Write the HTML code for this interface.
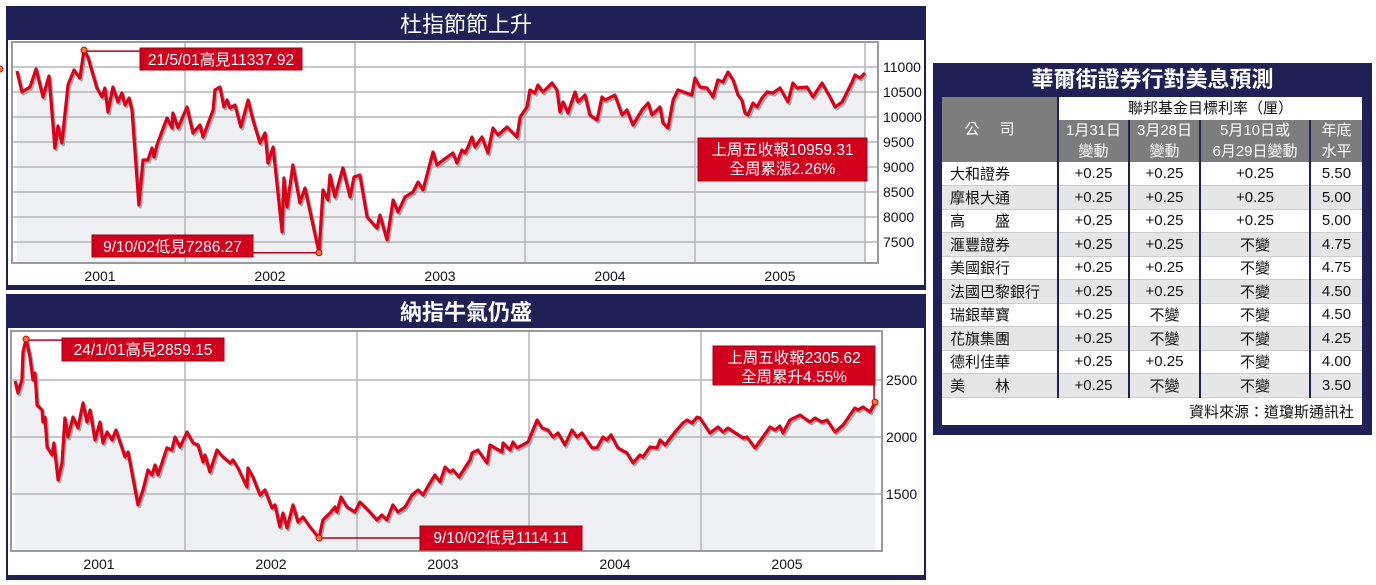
<!DOCTYPE html>
<html><head><meta charset="utf-8">
<style>
*{margin:0;padding:0;box-sizing:border-box}
body{width:1376px;height:585px;background:#fff;position:relative;overflow:hidden;font-family:"Liberation Sans","Noto Sans CJK TC",sans-serif}
svg text{font-family:"Liberation Sans","Noto Sans CJK TC",sans-serif}
#tbl{position:absolute;left:933px;top:63px;width:439px;height:372px;background:#1f2156}
#tbl .ttl{position:absolute;left:0;top:0;width:100%;height:34px;color:#fff;font-size:22px;font-weight:bold;text-align:center;line-height:34px}
table{position:absolute;left:9px;top:34px;border-collapse:collapse;font-size:15px;table-layout:fixed}
td{height:23.5px;text-align:center;padding:0;border-left:2px solid #1f2156;border-bottom:1px solid #ccc;color:#111}
td:first-child{border-left:none;text-align:left;padding-left:8px}
tr.g td{background:#e6e6e6}
tr.w td{background:#fff}
th{background:#7d7d7d;color:#fff;font-weight:normal;font-size:15px;line-height:21px;border-left:2px solid #1f2156}
th.top{background:#fff;color:#111;height:23px;line-height:23px}
.src td{text-align:right;padding-right:8px;height:28px;background:#fff;border:none}
</style></head><body>

<svg id="chart" width="930" height="585" style="position:absolute;left:0;top:0">
  <!-- top panel -->
  <rect x="7" y="7" width="918" height="282" fill="#fff" stroke="#1f2156" stroke-width="2"/>
  <rect x="7" y="7" width="918" height="33" fill="#1f2156"/>
  <text x="466" y="32" fill="#fff" font-size="22" text-anchor="middle">杜指節節上升</text>
  <g id="dowG"></g>
  <rect x="7" y="285" width="918" height="4" fill="#1f2156"/>
  <!-- bottom panel -->
  <rect x="7" y="295" width="918" height="284" fill="#fff" stroke="#1f2156" stroke-width="2"/>
  <rect x="7" y="295" width="918" height="33" fill="#1f2156"/>
  <text x="466" y="320" fill="#fff" font-size="22" font-weight="bold" text-anchor="middle">納指牛氣仍盛</text>
  <g id="nasG"></g>
  <rect x="7" y="575" width="918" height="4" fill="#1f2156"/>
</svg>

<div id="tbl">
  <div class="ttl">華爾街證券行對美息預測</div>
  <table>
    <colgroup><col style="width:116px"><col style="width:71px"><col style="width:71px"><col style="width:110px"><col style="width:52px"></colgroup>
    <tr><th rowspan="2" style="border-left:none;letter-spacing:20px">公司</th><th class="top" colspan="4">聯邦基金目標利率（厘）</th></tr>
    <tr><th>1月31日<br>變動</th><th>3月28日<br>變動</th><th>5月10日或<br>6月29日變動</th><th>年底<br>水平</th></tr>
    <tr class="w"><td>大和證券</td><td>+0.25</td><td>+0.25</td><td>+0.25</td><td>5.50</td></tr>
    <tr class="g"><td>摩根大通</td><td>+0.25</td><td>+0.25</td><td>+0.25</td><td>5.00</td></tr>
    <tr class="w"><td>高　　盛</td><td>+0.25</td><td>+0.25</td><td>+0.25</td><td>5.00</td></tr>
    <tr class="g"><td>滙豐證券</td><td>+0.25</td><td>+0.25</td><td>不變</td><td>4.75</td></tr>
    <tr class="w"><td>美國銀行</td><td>+0.25</td><td>+0.25</td><td>不變</td><td>4.75</td></tr>
    <tr class="g"><td>法國巴黎銀行</td><td>+0.25</td><td>+0.25</td><td>不變</td><td>4.50</td></tr>
    <tr class="w"><td>瑞銀華寶</td><td>+0.25</td><td>不變</td><td>不變</td><td>4.50</td></tr>
    <tr class="g"><td>花旗集團</td><td>+0.25</td><td>不變</td><td>不變</td><td>4.25</td></tr>
    <tr class="w"><td>德利佳華</td><td>+0.25</td><td>+0.25</td><td>不變</td><td>4.00</td></tr>
    <tr class="g"><td>美　　林</td><td>+0.25</td><td>不變</td><td>不變</td><td>3.50</td></tr>
    <tr class="src"><td colspan="5">資料來源：道瓊斯通訊社</td></tr>
  </table>
</div>

<script>
// ---- Dow data (years since start of 2001) ----
const dowDates=[0.012,0.041,0.088,0.124,0.165,0.2,0.235,0.253,0.276,0.312,0.347,0.382,0.406,0.429,0.482,0.512,0.529,0.547,0.576,0.606,0.629,0.647,0.671,0.688,0.729,0.753,0.782,0.806,0.818,0.835,0.894,0.924,0.929,0.959,1.012,1.047,1.088,1.106,1.165,1.176,1.206,1.229,1.247,1.265,1.294,1.329,1.371,1.4,1.441,1.471,1.488,1.518,1.571,1.582,1.6,1.635,1.676,1.706,1.788,1.812,1.841,1.853,1.882,1.929,1.971,1.994,2.029,2.071,2.129,2.147,2.188,2.224,2.253,2.294,2.341,2.371,2.4,2.459,2.482,2.518,2.576,2.6,2.629,2.647,2.665,2.688,2.706,2.747,2.782,2.812,2.841,2.894,2.953,2.971,3.012,3.029,3.059,3.076,3.106,3.159,3.188,3.206,3.224,3.253,3.294,3.312,3.353,3.382,3.424,3.453,3.471,3.529,3.571,3.6,3.635,3.688,3.724,3.747,3.794,3.812,3.841,3.871,3.9,3.982,4.0,4.029,4.071,4.106,4.135,4.165,4.194,4.224,4.253,4.276,4.294,4.312,4.341,4.365,4.394,4.424,4.459,4.5,4.547,4.576,4.6,4.659,4.694,4.747,4.794,4.824,4.865,4.924,4.941,4.971,5.0];
const dowValues=[10920,10500,10600,10960,10400,10820,9380,9820,9480,10640,10940,10780,11338,11200,10580,10400,10580,10100,10600,10300,10480,10240,10380,10140,8240,9140,9140,9380,9200,9440,9980,9780,10080,9780,10200,9680,9840,9600,10140,10540,10600,10200,10340,10180,10240,9800,10340,9940,9480,9680,9080,9400,7700,8780,8200,9040,8280,8580,7286,8540,8340,8840,8400,8980,8400,8800,8840,8000,7780,8040,7540,8340,8100,8400,8500,8700,8540,9300,9040,9140,9280,9080,9340,9280,9400,9600,9400,9600,9280,9780,9640,9800,9600,10000,10200,10540,10480,10640,10500,10680,10540,10100,10300,10080,10500,10300,10440,10040,9940,10400,10340,10440,10040,10140,9840,10140,10280,10040,10200,9880,9780,10340,10540,10440,10780,10600,10580,10400,10740,10700,10900,10740,10440,10340,10080,10040,10280,10200,10380,10500,10480,10580,10300,10680,10580,10600,10400,10680,10400,10200,10300,10700,10840,10780,10880,10959];
const dowTicks=[7500,8000,8500,9000,9500,10000,10500,11000];
const dowYears=["2001","2002","2003","2004","2005"];
// ---- Nasdaq data ----
const nasDates=[0.012,0.029,0.052,0.058,0.076,0.099,0.116,0.128,0.140,0.169,0.174,0.186,0.198,0.227,0.238,0.262,0.285,0.302,0.320,0.349,0.378,0.407,0.430,0.448,0.477,0.506,0.523,0.547,0.576,0.599,0.651,0.669,0.727,0.756,0.785,0.808,0.826,0.843,0.895,0.924,0.942,0.971,1.012,1.047,1.076,1.105,1.116,1.145,1.186,1.221,1.262,1.279,1.308,1.360,1.366,1.395,1.436,1.465,1.506,1.523,1.552,1.570,1.593,1.628,1.657,1.686,1.727,1.779,1.802,1.843,1.872,1.884,1.907,1.942,1.988,2.017,2.064,2.116,2.145,2.174,2.209,2.238,2.279,2.320,2.355,2.384,2.424,2.453,2.483,2.512,2.541,2.558,2.593,2.657,2.669,2.703,2.756,2.773,2.843,2.849,2.890,2.907,2.930,2.994,3.047,3.076,3.110,3.140,3.169,3.209,3.250,3.279,3.308,3.366,3.395,3.430,3.453,3.477,3.517,3.570,3.605,3.645,3.663,3.703,3.744,3.762,3.791,3.849,3.895,3.919,3.948,3.977,3.994,4.052,4.099,4.128,4.157,4.244,4.267,4.314,4.360,4.401,4.430,4.459,4.477,4.517,4.576,4.634,4.663,4.703,4.733,4.779,4.826,4.895,4.913,4.942,4.983,5.012];
const nasValues=[2491,2386,2500,2746,2859,2702,2500,2561,2281,2237,2132,2175,1912,1842,1947,1623,1772,2167,2000,2175,2079,2298,2132,2237,1974,2132,1947,2044,1974,2061,1825,1868,1404,1535,1711,1667,1754,1667,1904,1886,2000,1912,2044,1947,1930,1781,1842,1693,1886,1825,1772,1798,1728,1561,1728,1649,1491,1535,1377,1404,1211,1333,1202,1404,1254,1298,1211,1114,1272,1333,1386,1342,1474,1386,1342,1430,1360,1272,1316,1272,1404,1342,1386,1491,1535,1491,1596,1667,1605,1737,1693,1711,1649,1798,1860,1886,1772,1930,1868,1947,1886,1956,1904,1956,2149,2079,2061,2000,2035,1930,2061,2000,2035,1904,1904,2000,1974,2018,1904,1860,1772,1842,1825,1912,1904,1974,1930,2044,2123,2149,2123,2175,2167,2035,2088,2044,2079,1991,2000,1904,2000,2088,2061,2096,2035,2149,2193,2132,2167,2132,2149,2044,2105,2254,2237,2263,2219,2306];
const nasTicks=[1500,2000,2500];
const nasYears=["2001","2002","2003","2004","2005"];

const NS="http://www.w3.org/2000/svg";
function mk(parent,tag,attrs){const e=document.createElementNS(NS,tag);for(const k in attrs)e.setAttribute(k,attrs[k]);parent.appendChild(e);return e;}

function drawChart(g,cfg){
  const {dates,values,ticks,years,x0,xs,yv0,y0,ys,L,R,T,B,vlines,yearY,labX}=cfg;
  const X=t=>x0+t*xs, Y=v=>y0-(v-yv0)*ys;
  const bg=mk(g,'rect',{x:L,y:T,width:R-L,height:B-T,fill:'#fff'});
  
  
  let pts=dates.map((d,i)=>X(d).toFixed(1)+','+Y(values[i]).toFixed(1));
  const area=mk(g,'polygon',{points:X(dates[0]).toFixed(1)+','+B+' '+pts.join(' ')+' '+X(dates[dates.length-1]).toFixed(1)+','+B,fill:'#eef0f4'});
  
  
  ticks.forEach(v=>{
    const l=mk(g,'line',{x1:L,x2:R,y1:Y(v),y2:Y(v),stroke:'#b5b5b5','stroke-width':1.5});
    
    
    const t=mk(g,'text',{x:labX,y:Y(v)+5,'font-size':14,fill:'#111'});t.textContent=v;
    
    
  });
  for(let i=1;i<=vlines;i++){
    const l=mk(g,'line',{x1:X(i),x2:X(i),y1:T,y2:B,stroke:'#b5b5b5','stroke-width':1.5});
    
    
  }
  years.forEach((yr,i)=>{
    const t=mk(g,'text',{x:X(i+0.5),y:yearY,'font-size':14,fill:'#111','text-anchor':'middle'});t.textContent=yr;
    
    
  });
  const fr=mk(g,'rect',{x:L,y:T,width:R-L,height:B-T,fill:'none',stroke:'#9a9a9a','stroke-width':2});
  
  
  const sh=mk(g,'polyline',{points:pts.join(' '),fill:'none',stroke:'#a8a8a8','stroke-width':3,'stroke-linejoin':'round',transform:'translate(1.5,2)'});
  
  
  const ln=mk(g,'polyline',{points:pts.join(' '),fill:'none',stroke:'#dc0019','stroke-width':3.2,'stroke-linejoin':'round'});
  
  
  return {X,Y};
}
function marker(g,x,y){const c=mk(g,'circle',{cx:x,cy:y,r:3,fill:'#f07a3a',stroke:'#c00','stroke-width':1});
  
  }
function box(g,x,y,w,h,lines,name){
  const r=mk(g,'rect',{x:x,y:y,width:w,height:h,fill:'#d2001c',stroke:'#a00014','stroke-width':1});
  
  
  lines.forEach((s,i)=>{const t=mk(g,'text',{x:x+w/2,y:y+17+i*19,'font-size':15.5,fill:'#fff','text-anchor':'middle'});t.textContent=s;
    
    });
}
function conn(g,pts){const p=mk(g,'polyline',{points:pts,fill:'none',stroke:'#b0001a','stroke-width':1.5});
  
  }

// Dow
const dg=document.getElementById('dowG');
const d=drawChart(dg,{dates:dowDates,values:dowValues,ticks:dowTicks,years:dowYears,x0:15,xs:170,yv0:11000,y0:67,ys:25/500,L:12,R:878,T:42,B:263,vlines:5,yearY:281,labX:883});
{let i=dowValues.indexOf(Math.max(...dowValues));const px=d.X(dowDates[i]),py=d.Y(dowValues[i]);
 conn(dg,px+','+(py+1)+' 140,'+(py+1));box(dg,140,48,162,22,['21/5/01高見11337.92'],'dow-high-callout');marker(dg,px,py);}
{let i=dowValues.indexOf(Math.min(...dowValues));const px=d.X(dowDates[i]),py=d.Y(dowValues[i]);
 conn(dg,'253,'+py+' '+px+','+py);box(dg,92,235,161,22,['9/10/02低見7286.27'],'dow-low-callout');marker(dg,px,py);}
{let n=dowValues.length-1;const px=d.X(dowDates[n]),py=d.Y(dowValues[n]);
 conn(dg,(px+1)+','+py+' '+(px+1)+',138');box(dg,698,138,169,43,['上周五收報10959.31','全周累漲2.26%'],'dow-close-callout');marker(dg,px,py);}

// Nasdaq
const ng=document.getElementById('nasG');
const n=drawChart(ng,{dates:nasDates,values:nasValues,ticks:nasTicks,years:nasYears,x0:13,xs:172,yv0:2000,y0:437,ys:57/500,L:11,R:882,T:331,B:551,vlines:4,yearY:569,labX:886});
{let i=nasValues.indexOf(Math.max(...nasValues));const px=n.X(nasDates[i]),py=n.Y(nasValues[i]);
 conn(ng,px+','+(py+1)+' 62,'+(py+1));box(ng,62,338,162,23,['24/1/01高見2859.15'],'nasdaq-high-callout');marker(ng,px,py);}
{let i=nasValues.indexOf(Math.min(...nasValues));const px=n.X(nasDates[i]),py=n.Y(nasValues[i]);
 conn(ng,px+','+py+' 420,'+py);box(ng,420,526,162,24,['9/10/02低見1114.11'],'nasdaq-low-callout');marker(ng,px,py);}
{let k=nasValues.length-1;const px=n.X(nasDates[k]),py=n.Y(nasValues[k]);
 conn(ng,(px-1)+','+py+' '+(px-1)+',385');box(ng,713,346,162,39,['上周五收報2305.62','全周累升4.55%'],'nasdaq-close-callout');marker(ng,px,py);}
</script>
</body></html>
